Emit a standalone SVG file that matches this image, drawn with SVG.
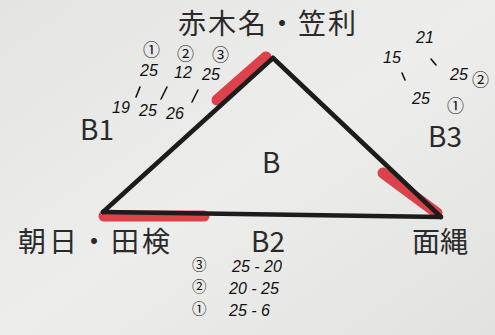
<svg xmlns="http://www.w3.org/2000/svg" width="495" height="335" viewBox="0 0 495 335">
<defs>
<linearGradient id="bg" x1="0" y1="0" x2="1" y2="1">
<stop offset="0" stop-color="#e4e4e2"/>
<stop offset="0.5" stop-color="#ededeb"/>
<stop offset="1" stop-color="#e2e2e0"/>
</linearGradient>
</defs>
<style>
.lbl{font-family:"Noto Sans CJK JP","Liberation Sans",sans-serif;fill:#2a2a2a;}
.big{font-size:28px;}
.hw{font-family:"Liberation Sans","Noto Sans CJK JP",sans-serif;font-style:italic;font-size:16px;fill:#111;}
.circ{font-family:"Noto Sans CJK JP",sans-serif;font-size:17px;fill:#111;}
.circ.sm{font-size:14.5px;}
.edge{stroke:#1c1c1c;stroke-width:4.5;stroke-linecap:round;fill:none;}
.hl{stroke:#d9303a;stroke-width:11;stroke-linecap:round;fill:none;opacity:0.9;}
.tick{stroke:#111;stroke-width:1.6;stroke-linecap:round;fill:none;}
</style>
<rect width="495" height="335" fill="url(#bg)"/>
<g id="connectors">
<line class="hl" x1="217" y1="100" x2="266" y2="57"/>
<line class="hl" x1="104" y1="216" x2="204" y2="216"/>
<line class="hl" x1="383" y1="173" x2="437" y2="213"/>
<line class="edge" x1="103" y1="212" x2="273" y2="58"/>
<line class="edge" x1="273" y1="58" x2="441" y2="217"/>
<line class="edge" x1="103" y1="212" x2="441" y2="217"/>
</g>
<g id="node-top">
<text class="lbl big" x="178" y="34" letter-spacing="2">赤木名・笠利</text>
<text class="circ" x="143" y="56">①</text>
<text class="circ" x="177" y="60">②</text>
<text class="circ" x="212" y="61">③</text>
<text class="hw" x="140" y="76">25</text>
<text class="hw" x="174" y="78">12</text>
<text class="hw" x="202" y="80">25</text>
<line class="tick" x1="140" y1="87" x2="136" y2="97"/>
<line class="tick" x1="167" y1="87" x2="161" y2="99"/>
<line class="tick" x1="198" y1="90" x2="192" y2="102"/>
<text class="hw" x="112" y="113">19</text>
<text class="hw" x="139" y="116">25</text>
<text class="hw" x="166" y="119">26</text>
</g>
<g id="node-B1"><text class="lbl big" x="80" y="140">B1</text></g>
<g id="node-B"><text class="lbl big" x="262" y="173">B</text></g>
<g id="node-B3">
<text class="lbl big" x="428" y="147">B3</text>
<text class="hw" x="416" y="43">21</text>
<text class="hw" x="383" y="63">15</text>
<line class="tick" x1="431" y1="59" x2="436" y2="65"/>
<line class="tick" x1="402" y1="73" x2="405" y2="80"/>
<text class="hw" x="450" y="80">25</text>
<text class="circ" x="472" y="86">②</text>
<text class="hw" x="412" y="104">25</text>
<text class="circ" x="447" y="112">①</text>
</g>
<g id="node-left"><text class="lbl big" x="18" y="252" letter-spacing="3">朝日・田検</text></g>
<g id="node-right"><text class="lbl big" x="412" y="252">面縄</text></g>
<g id="node-B2">
<text class="lbl big" x="251" y="252">B2</text>
<text class="circ sm" x="192" y="270">③</text>
<text class="hw" x="232" y="272">25 - 20</text>
<text class="circ sm" x="192" y="292">②</text>
<text class="hw" x="229" y="294">20 - 25</text>
<text class="circ sm" x="192" y="314">①</text>
<text class="hw" x="229" y="316">25  - 6</text>
</g>
</svg>
